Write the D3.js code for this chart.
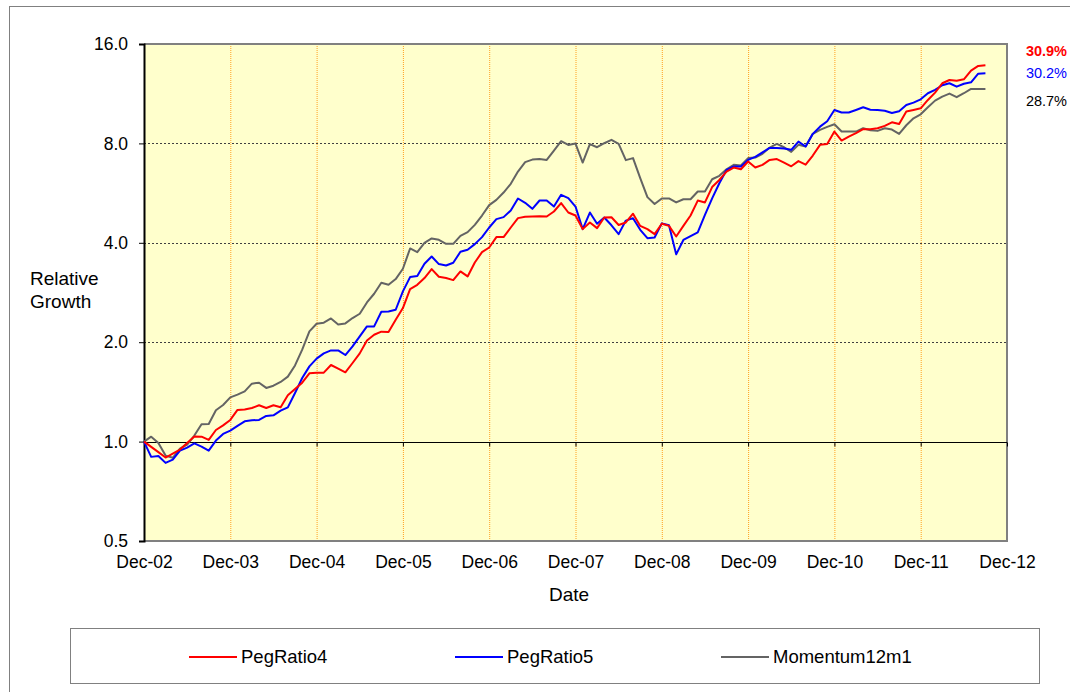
<!DOCTYPE html>
<html><head><meta charset="utf-8">
<script src="https://cdn.jsdelivr.net/npm/d3@7"></script>
<style>
body{margin:0;background:#fff}
svg{display:block;font-family:Arial,"Liberation Sans",sans-serif}
</style>
</head><body><svg id="c" width="1070" height="692"></svg>
<script>
// Monthly relative growth, Dec-02 (index 0) .. Sep-12 (index 117)
const pegRatio4 = [1.00,0.964,0.929,0.895,0.920,0.946,0.991,1.037,1.035,1.012,1.084,1.120,
1.163,1.247,1.250,1.264,1.288,1.264,1.288,1.270,1.381,1.443,1.508,1.610,
1.617,1.617,1.706,1.663,1.621,1.730,1.850,2.025,2.107,2.152,2.147,2.339,
2.537,2.897,2.985,3.128,3.330,3.157,3.128,3.084,3.276,3.164,3.487,3.748,
3.871,4.162,4.162,4.450,4.751,4.794,4.806,4.817,4.806,4.975,5.275,4.941,
4.84,4.40,4.61,4.43,4.77,4.78,4.53,4.61,4.90,4.50,4.40,4.25,
4.57,4.50,4.18,4.50,4.84,5.37,5.30,5.90,6.20,6.57,6.76,6.68,
7.05,6.76,6.89,7.13,7.17,7.00,6.82,7.07,6.90,7.35,7.92,7.96,
8.69,8.16,8.39,8.59,8.83,8.83,8.89,9.04,9.27,9.16,9.99,10.10,
10.22,10.83,11.40,12.17,12.45,12.39,12.51,13.29,13.73,13.80];
const pegRatio5 = [1.00,0.899,0.905,0.862,0.882,0.939,0.959,0.988,0.966,0.939,1.007,1.055,
1.080,1.116,1.152,1.160,1.163,1.196,1.201,1.241,1.270,1.404,1.558,1.690,
1.783,1.850,1.889,1.889,1.829,1.942,2.083,2.233,2.233,2.474,2.479,2.508,
2.850,3.149,3.171,3.456,3.637,3.448,3.415,3.480,3.757,3.810,3.964,4.162,
4.450,4.718,4.784,5.010,5.448,5.286,5.069,5.372,5.372,5.151,5.589,5.461,
5.15,4.40,4.94,4.57,4.77,4.52,4.25,4.67,4.75,4.38,4.13,4.15,
4.58,4.52,3.69,4.08,4.19,4.30,4.86,5.45,6.06,6.65,6.81,6.81,
7.13,7.28,7.51,7.75,7.75,7.72,7.65,8.10,7.83,8.55,8.99,9.34,
10.10,9.92,9.92,10.10,10.29,10.12,10.10,10.05,9.89,10.01,10.46,10.63,
10.88,11.35,11.62,12.00,12.17,11.88,12.13,12.25,13.01,13.05];
const momentum12m1 = [1.00,1.035,0.99,0.907,0.893,0.952,0.979,1.043,1.128,1.131,1.244,1.291,
1.361,1.387,1.420,1.498,1.508,1.454,1.477,1.516,1.573,1.701,1.898,2.157,
2.275,2.291,2.360,2.264,2.280,2.367,2.439,2.639,2.804,3.027,2.985,3.106,
3.337,3.845,3.748,4.000,4.123,4.084,3.972,3.972,4.200,4.309,4.534,4.838,
5.202,5.397,5.679,6.034,6.574,7.018,7.146,7.181,7.131,7.610,8.124,7.917,
7.99,7.00,7.956,7.79,8.01,8.20,7.97,7.12,7.22,6.28,5.50,5.24,
5.45,5.45,5.30,5.42,5.42,5.72,5.72,6.23,6.38,6.68,6.89,6.86,
7.22,7.25,7.44,7.77,7.97,7.79,7.54,7.92,7.83,8.55,8.79,8.98,
9.14,8.69,8.69,8.69,8.89,8.77,8.73,8.89,8.81,8.55,9.08,9.53,
9.80,10.29,10.78,11.09,11.32,11.04,11.35,11.70,11.70,11.70];

const seriesNames = ["PegRatio4","PegRatio5","Momentum12m1"];
const seriesColors = ["#ff0000","#0000ff","#646464"];
const annualReturns = ["30.9%","30.2%","28.7%"];
const returnColors = ["#ff0000","#0000ff","#000000"];
const returnWeights = ["bold","normal","normal"];
const xTickLabels = ["Dec-02","Dec-03","Dec-04","Dec-05","Dec-06","Dec-07","Dec-08","Dec-09","Dec-10","Dec-11","Dec-12"];
const yTickValues = [0.5,1,2,4,8,16];

const svg = d3.select("#c");
const L = 144, R = 1007, T = 44, B = 541;
const FF = "Arial, 'Liberation Sans', sans-serif";

// outer frame
svg.append("rect").attr("x",9.5).attr("y",6.5).attr("width",1100).attr("height",1000)
  .attr("fill","#fff").attr("stroke","#808080").attr("stroke-width",1);

const x = d3.scaleLinear().domain([0,120]).range([L,R]);
const y = d3.scaleLog().base(2).domain([0.5,16]).range([B,T]);

// plot background
svg.append("rect").attr("x",L).attr("y",T).attr("width",R-L).attr("height",B-T).attr("fill","#ffffcc");

const xTicks = d3.range(0,121,12);
// vertical gridlines
svg.append("g").selectAll("line").data(xTicks.slice(1,-1)).join("line")
  .attr("x1",d=>x(d)+0.5).attr("x2",d=>x(d)+0.5).attr("y1",T).attr("y2",B)
  .attr("stroke","#ffa020").attr("stroke-width",1).attr("stroke-dasharray","1,1");
// horizontal gridlines
svg.append("g").selectAll("line").data([2,4,8]).join("line")
  .attr("x1",L).attr("x2",R).attr("y1",d=>Math.round(y(d))+0.5).attr("y2",d=>Math.round(y(d))+0.5)
  .attr("stroke","#404040").attr("stroke-width",1).attr("stroke-dasharray","2,2");

// plot border (top/right/bottom)
svg.append("path").attr("d",`M${L},${T}H${R}V${B}H${L}`).attr("fill","none")
  .attr("stroke","#808080").attr("stroke-width",2);

// x axis crossing at 1.0
const xAxis = svg.append("g").attr("transform",`translate(0,${Math.round(y(1))+0.5})`)
  .call(d3.axisBottom(x).tickValues(xTicks).tickSize(4).tickFormat(""));
xAxis.select(".domain").attr("stroke","#000").attr("d",`M${L},0H${R}`);
xAxis.selectAll(".tick line").attr("stroke","#000");

// x labels at bottom
const xLab = svg.append("g").attr("transform",`translate(0,${B})`)
  .call(d3.axisBottom(x).tickValues(xTicks).tickSize(0).tickPadding(15).tickFormat((d,i)=>xTickLabels[i]));
xLab.select(".domain").remove();
xLab.selectAll("text").attr("font-size",17.5).attr("fill","#000").attr("font-family",FF);

// y axis
const yAx = svg.append("g").attr("transform",`translate(${L},0)`)
  .call(d3.axisLeft(y).tickValues(yTickValues).tickSize(5).tickPadding(11).tickFormat(d3.format(".1f")));
yAx.select(".domain").attr("stroke","#000").attr("stroke-width",2);
yAx.selectAll(".tick line").attr("stroke","#000");
yAx.selectAll("text").attr("font-size",17.5).attr("fill","#000").attr("font-family",FF);

// lines
const allSeries = [pegRatio4, pegRatio5, momentum12m1];
const line = d3.line().x((d,i)=>x(i)).y(d=>y(d));
[2,1,0].forEach(k=>{
  svg.append("path").datum(allSeries[k]).attr("d",line).attr("fill","none")
    .attr("stroke",seriesColors[k]).attr("stroke-width",2).attr("stroke-linejoin","round");
});

// right annotations
const annY = [50.7,73,100.7];
annualReturns.forEach((t,i)=>{
  svg.append("text").attr("x",1067).attr("y",annY[i]).attr("dy","0.35em").attr("text-anchor","end")
    .attr("font-size",14.5).attr("font-weight",returnWeights[i]).attr("fill",returnColors[i]).text(t);
});

// axis titles
const yt = svg.append("text").attr("x",30).attr("font-size",19).attr("fill","#000");
yt.append("tspan").attr("x",30).attr("y",285).text("Relative");
yt.append("tspan").attr("x",30).attr("y",308).text("Growth");
svg.append("text").attr("x",569).attr("y",601).attr("text-anchor","middle").attr("font-size",19).text("Date");

// legend
svg.append("rect").attr("x",70.5).attr("y",628.5).attr("width",969).attr("height",55)
  .attr("fill","#fff").attr("stroke","#808080").attr("stroke-width",1);
const legX = [189,455,721];
seriesNames.forEach((n,i)=>{
  svg.append("line").attr("x1",legX[i]).attr("x2",legX[i]+48).attr("y1",657).attr("y2",657)
    .attr("stroke",seriesColors[i]).attr("stroke-width",2);
  svg.append("text").attr("x",legX[i]+52).attr("y",657).attr("dy","0.35em").attr("font-size",18.5).text(n);
});
</script></body></html>
